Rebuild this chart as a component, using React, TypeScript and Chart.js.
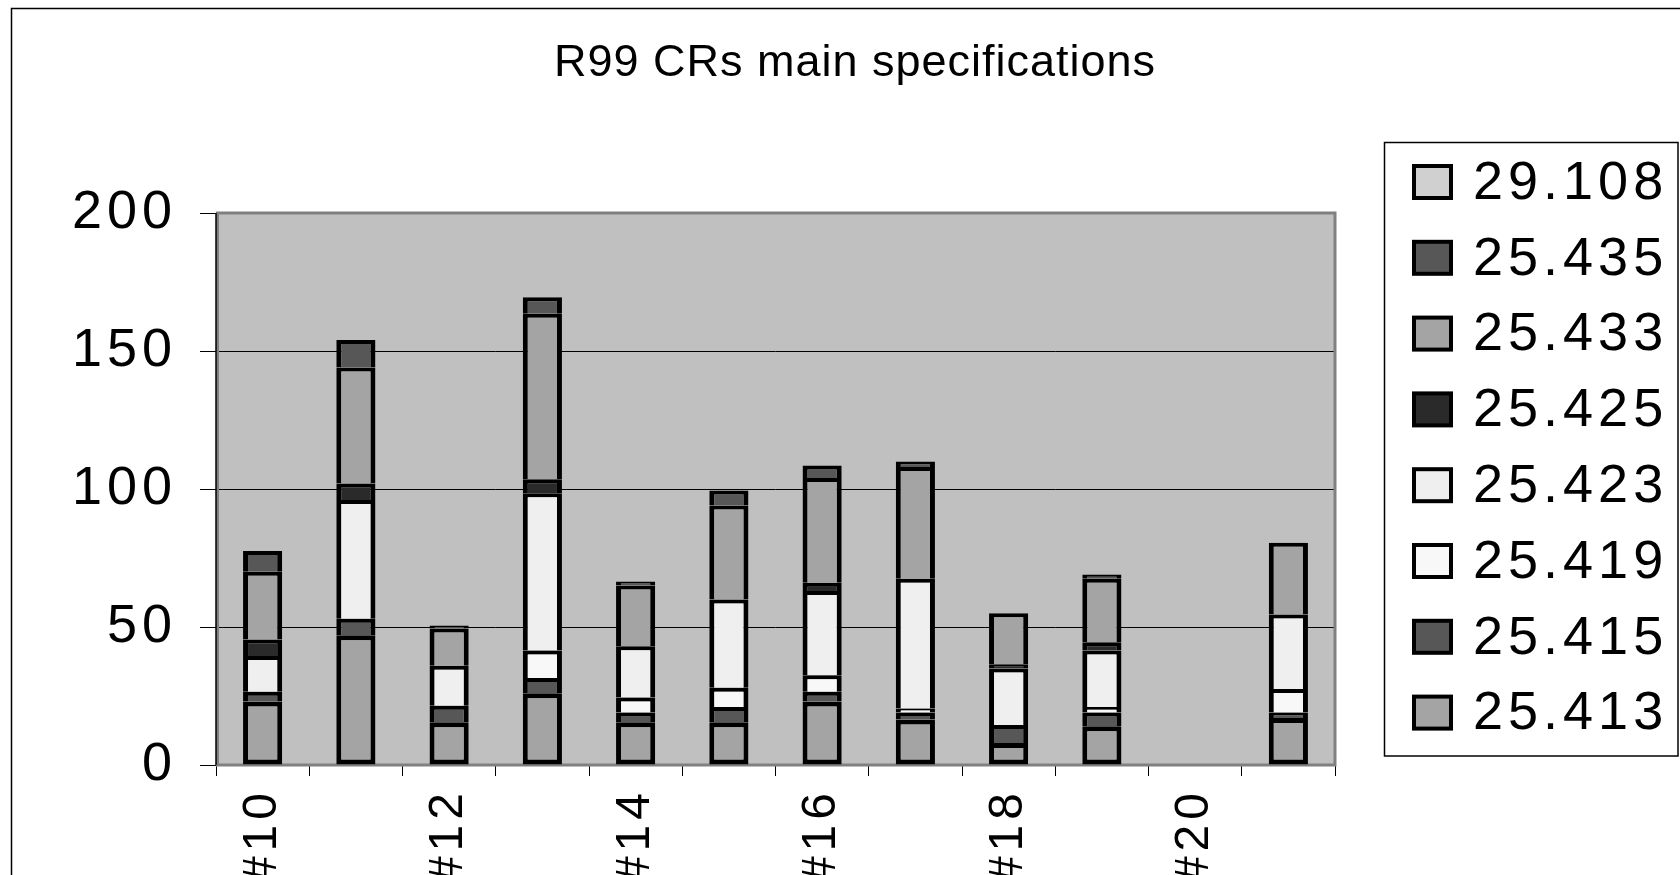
import React, { useEffect, useRef } from 'react';
import { Chart, registerables } from 'chart.js';

Chart.register(...registerables);

const titleText = 'R99 CRs main specifications';
const categories = ['#10', '#11', '#12', '#13', '#14', '#15', '#16', '#17', '#18', '#19', '#20', '#21'];
const seriesLabels = ['25.413', '25.415', '25.419', '25.423', '25.425', '25.433', '25.435', '29.108'];
const seriesColors = ['#a4a4a4', '#575757', '#f8f8f8', '#efefef', '#2a2a2a', '#a4a4a4', '#575757', '#d0d0d0'];
const yTicks = [0, 50, 100, 150, 200];

const s25413 = [23, 47, 15.5, 26, 15.5, 15.5, 23, 16.5, 8, 14, 0, 17];
const s25415 = [3.5, 6, 6, 5.5, 3.5, 5.5, 3.5, 2.5, 6.5, 5, 0, 2];
const s25419 = [0, 0, 0, 10, 5.5, 7, 6, 1.5, 0, 2, 0, 8.5];
const s25423 = [13, 43, 14.5, 57, 18.5, 32, 30.5, 47, 20.5, 20.5, 0, 27];
const s25425 = [6, 6, 0, 5, 0, 0, 3, 0, 1.5, 3, 0, 0];
const s25433 = [24.5, 42, 13.5, 60, 22, 34, 38, 40.5, 18.5, 23, 0, 26];
const s25435 = [7.5, 10, 1, 6, 1.5, 5.5, 4.5, 2, 0, 1.5, 0, 0];
const s29108 = [0, 0, 0, 0, 0, 0, 0, 0, 0, 0, 0, 0];

const FONT = '"Liberation Sans", Arial, sans-serif';

export default function App() {
  const ref = useRef<HTMLCanvasElement>(null);

  useEffect(() => {
    if (!ref.current) return;
    const series = [s25413, s25415, s25419, s25423, s25425, s25433, s25435, s29108];

    const decor = {
      id: 'decor',
      beforeDraw(chart: any) {
        const { ctx, width, height, chartArea: a } = chart;
        ctx.save();
        ctx.fillStyle = '#ffffff';
        ctx.fillRect(0, 0, width, height);
        ctx.strokeStyle = '#000';
        ctx.lineWidth = 1.5;
        ctx.strokeRect(11.5, 8.5, width + 60, height + 60);
        ctx.fillStyle = '#c0c0c0';
        ctx.fillRect(a.left, a.top, a.right - a.left, a.bottom - a.top);
        ctx.restore();
        ctx.letterSpacing = '5px';
      },
      beforeDatasetsDraw(chart: any) {
        const { ctx, chartArea: a } = chart;
        ctx.save();
        ctx.strokeStyle = '#808080';
        ctx.lineWidth = 3;
        ctx.strokeRect(a.left + 1.5, a.top, a.right - a.left - 1.5, a.bottom - a.top);
        ctx.strokeStyle = '#000';
        ctx.lineWidth = 1.5;
        ctx.beginPath();
        ctx.moveTo(a.left, a.top);
        ctx.lineTo(a.left, a.bottom);
        ctx.stroke();
        ctx.restore();
      },
      afterDraw(chart: any) {
        const { ctx } = chart;
        ctx.save();
        // title
        ctx.letterSpacing = '1px';
        ctx.fillStyle = '#000';
        ctx.font = `45px ${FONT}`;
        ctx.textAlign = 'center';
        ctx.textBaseline = 'alphabetic';
        ctx.fillText(titleText, 855, 76);
        // legend
        ctx.lineWidth = 1.5;
        ctx.strokeStyle = '#000';
        ctx.strokeRect(1384.5, 142.5, 293.5, 613.5);
        const ds = chart.data.datasets;
        ctx.font = `54px ${FONT}`;
        ctx.letterSpacing = '5px';
        ctx.textAlign = 'left';
        ctx.textBaseline = 'middle';
        for (let k = 0; k < ds.length; k++) {
          const d = ds[ds.length - 1 - k];
          const cy = 182 + k * 75.8;
          ctx.fillStyle = d.backgroundColor;
          ctx.fillRect(1414, cy - 16, 37, 32);
          ctx.lineWidth = 4;
          ctx.strokeRect(1414, cy - 16, 37, 32);
          ctx.fillStyle = '#000';
          ctx.fillText(d.label, 1473, cy + 2);
        }
        ctx.restore();
      },
    };

    const chart = new Chart(ref.current, {
      type: 'bar',
      data: {
        labels: categories,
        datasets: series.map((data, i) => ({
          label: seriesLabels[i],
          data,
          backgroundColor: seriesColors[i],
          borderColor: '#000',
          borderWidth: i === 0 ? 5 : { top: 4, left: 5, right: 5, bottom: 0 },
          borderSkipped: i === 0 ? false : 'start',
          categoryPercentage: 1,
          barPercentage: 0.42,
        })),
      },
      options: {
        animation: false,
        responsive: true,
        maintainAspectRatio: false,
        layout: { padding: { left: 0, right: 345, top: 213, bottom: 0 } },
        plugins: {
          legend: { display: false },
          title: { display: false },
          tooltip: { enabled: false },
        },
        scales: {
          x: {
            stacked: true,
            grid: {
              display: true,
              drawOnChartArea: false,
              drawTicks: true,
              tickLength: 11,
              color: '#000',
              lineWidth: 1,
              offset: true,
            },
            border: { display: false },
            ticks: {
              autoSkip: false,
              maxRotation: 90,
              minRotation: 90,
              padding: 12,
              color: '#000',
              font: { size: 48, family: FONT },
              callback: (_v: any, index: number) => (index % 2 === 0 ? categories[index] : ''),
            },
            afterFit: (s: any) => {
              s.height = 110;
            },
          },
          y: {
            stacked: true,
            min: 0,
            max: 200,
            grid: { color: '#000', lineWidth: 1, drawTicks: true, tickLength: 16, tickColor: '#000' },
            border: { display: false },
            ticks: { padding: 23, color: '#000', font: { size: 54, family: FONT } },
            afterBuildTicks: (s: any) => {
              s.ticks = yTicks.map((v) => ({ value: v }));
            },
            afterFit: (s: any) => {
              s.width = 216;
            },
          },
        },
      },
      plugins: [decor],
    });

    return () => chart.destroy();
  }, []);

  return (
    <div style={{ position: 'fixed', left: 0, top: 0, width: 1680, height: 875 }}>
      <canvas ref={ref} style={{ display: 'block' }} />
    </div>
  );
}
